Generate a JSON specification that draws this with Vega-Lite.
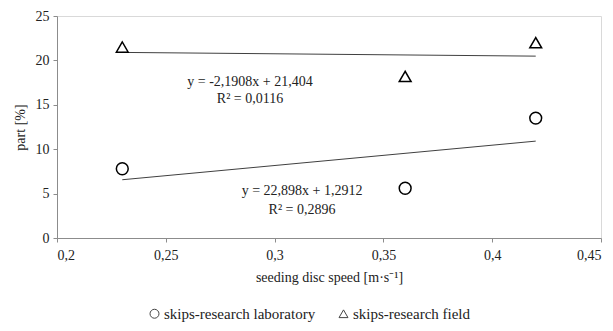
{
  "$schema": "https://vega.github.io/schema/vega-lite/v6.json",
  "width": 544,
  "height": 222,
  "autosize": {"type": "none"},
  "padding": {"left": 57, "top": 16, "right": 12, "bottom": 93},
  "background": "white",
  "config": {
    "locale": {"number": {"decimal": ",", "thousands": " ", "grouping": [3], "currency": ["", ""]}},
    "font": "Liberation Serif",
    "view": {"stroke": "#d9d9d9", "strokeWidth": 1},
    "axis": {
      "grid": false,
      "domainColor": "#8c8c8c",
      "tickColor": "#8c8c8c",
      "tickSize": 4,
      "labelFont": "Liberation Serif",
      "labelFontSize": 14,
      "labelColor": "#222",
      "titleFont": "Liberation Serif",
      "titleFontSize": 14,
      "titleFontWeight": "normal",
      "titleColor": "#222"
    },
    "legend": {"labelFont": "Liberation Serif", "labelFontSize": 15}
  },
  "datasets": {
    "points": [
      {"speed": 0.23, "part": 7.8, "series": "skips-research laboratory"},
      {"speed": 0.36, "part": 5.6, "series": "skips-research laboratory"},
      {"speed": 0.42, "part": 13.5, "series": "skips-research laboratory"},
      {"speed": 0.23, "part": 21.5, "series": "skips-research field"},
      {"speed": 0.36, "part": 18.2, "series": "skips-research field"},
      {"speed": 0.42, "part": 22.0, "series": "skips-research field"}
    ],
    "trend": [
      {"speed": 0.23, "part": 6.56, "series": "laboratory"},
      {"speed": 0.42, "part": 10.91, "series": "laboratory"},
      {"speed": 0.23, "part": 20.9, "series": "field"},
      {"speed": 0.42, "part": 20.48, "series": "field"}
    ],
    "labels": [
      {"speed": 0.2887, "part": 17.57, "text": "y = -2,1908x + 21,404"},
      {"speed": 0.2887, "part": 15.65, "text": "R² = 0,0116"},
      {"speed": 0.3126, "part": 5.29, "text": "y = 22,898x + 1,2912"},
      {"speed": 0.3126, "part": 3.15, "text": "R² = 0,2896"}
    ]
  },
  "layer": [
    {
      "data": {"name": "trend"},
      "mark": {"type": "line", "color": "#404040", "strokeWidth": 1},
      "encoding": {
        "x": {"field": "speed", "type": "quantitative"},
        "y": {"field": "part", "type": "quantitative"},
        "detail": {"field": "series"}
      }
    },
    {
      "data": {"name": "points"},
      "mark": {"type": "point", "filled": false, "stroke": "black", "strokeWidth": 1.5, "size": 140, "opacity": 1},
      "encoding": {
        "x": {
          "field": "speed", "type": "quantitative",
          "scale": {"domain": [0.2, 0.45], "nice": false, "zero": false},
          "axis": {"values": [0.2, 0.25, 0.3, 0.35, 0.4, 0.45], "format": ".2~f", "title": "seeding disc speed [m·s⁻¹]", "labelFont": "Liberation Serif", "labelFontSize": 14, "labelPadding": 6, "titlePadding": 8}
        },
        "y": {
          "field": "part", "type": "quantitative",
          "scale": {"domain": [0, 25], "nice": false},
          "axis": {"values": [0, 5, 10, 15, 20, 25], "format": "d", "title": "part [%]", "labelFont": "Liberation Serif", "labelFontSize": 14, "labelPadding": 4, "titlePadding": 8}
        },
        "shape": {
          "field": "series", "type": "nominal",
          "scale": {"domain": ["skips-research laboratory", "skips-research field"], "range": ["circle", "triangle-up"]},
          "legend": {
            "orient": "none", "direction": "horizontal", "title": null,
            "legendX": 90, "legendY": 290,
            "labelFont": "Liberation Serif", "labelFontSize": 15, "labelColor": "#222",
            "symbolSize": 80, "symbolStrokeColor": "#444", "symbolFillColor": "transparent", "symbolStrokeWidth": 1,
            "columnPadding": 20, "symbolOffset": 0, "labelOffset": 2
          }
        }
      }
    },
    {
      "data": {"name": "labels"},
      "mark": {"type": "text", "font": "Liberation Serif", "fontSize": 14, "color": "#222", "align": "center", "baseline": "middle"},
      "encoding": {
        "x": {"field": "speed", "type": "quantitative"},
        "y": {"field": "part", "type": "quantitative"},
        "text": {"field": "text"}
      }
    }
  ]
}
